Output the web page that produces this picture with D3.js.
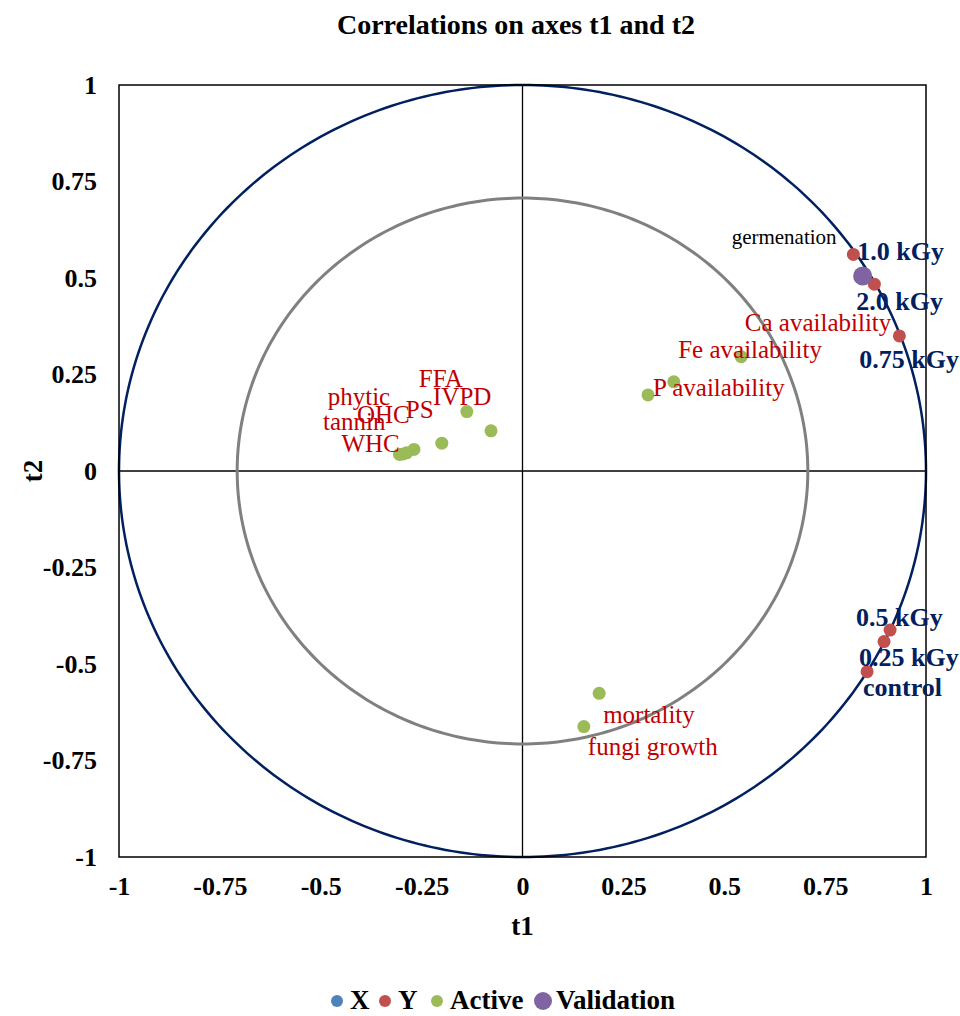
<!DOCTYPE html>
<html>
<head>
<meta charset="utf-8">
<script src="https://cdn.jsdelivr.net/npm/d3@7"></script>
<style>
  body { margin: 0; background: #fff; }
  text { font-family: "Liberation Serif", "Times New Roman", serif; }
</style>
</head>
<body>
<div id="chart"></div>
<script>
// active variables (green)
const activeNames = ["IVPD", "FFA", "PS", "OHC", "phytic", "tannin", "WHC",
  "P availability", "Ca availability", "Fe availability", "mortality", "fungi growth"];
const activeT1 = [-0.078, -0.138, -0.200, -0.269, -0.287, -0.296, -0.305, 0.311, 0.375, 0.542, 0.190, 0.152];
const activeT2 = [0.104, 0.154, 0.072, 0.056, 0.047, 0.044, 0.043, 0.197, 0.231, 0.296, -0.576, -0.662];

// Y variables (red)
const yNames = ["1.0 kGy", "2.0 kGy", "0.75 kGy", "0.5 kGy", "0.25 kGy", "control"];
const yT1 = [0.820, 0.872, 0.934, 0.911, 0.896, 0.854];
const yT2 = [0.561, 0.484, 0.350, -0.412, -0.442, -0.520];

// validation (purple)
const validationNames = ["germenation"];
const validationT1 = [0.843];
const validationT2 = [0.505];

const tickValues = [-1, -0.75, -0.5, -0.25, 0, 0.25, 0.5, 0.75, 1];
const legendNames = ["X", "Y", "Active", "Validation"];

const width = 960, height = 1016;
const colors = { X: "#4F81BD", Y: "#C0504D", Active: "#9BBB59", Validation: "#8064A2" };

// label offsets in pixels from the point
const labelOffsets = {
  "IVPD": [-58, -26], "FFA": [-48, -25], "PS": [-36, -25], "OHC": [-57, -26],
  "phytic": [-79, -48], "tannin": [-80, -24], "WHC": [-58, -2],
  "P availability": [5, 1], "Ca availability": [71, -51], "Fe availability": [-63, 1],
  "mortality": [4, 30], "fungi growth": [4, 28],
  "1.0 kGy": [4, 6], "2.0 kGy": [-18, 26], "0.75 kGy": [-40, 32],
  "0.5 kGy": [-34, -4], "0.25 kGy": [-25, 24], "control": [-4, 24],
  "germenation": [-131, -32]
};

const svg = d3.select("#chart").append("svg")
  .attr("width", width).attr("height", height);

const x = d3.scaleLinear().domain([-1, 1]).range([119, 926]);
const y = d3.scaleLinear().domain([-1, 1]).range([857, 85]);

svg.append("text")
  .attr("x", 516).attr("y", 34)
  .attr("text-anchor", "middle")
  .attr("font-size", 28).attr("font-weight", "bold")
  .text("Correlations on axes t1 and t2");

// zero lines
svg.append("line").attr("x1", x(-1)).attr("x2", x(1)).attr("y1", y(0)).attr("y2", y(0))
  .attr("stroke", "#000").attr("stroke-width", 1.3);
svg.append("line").attr("x1", x(0)).attr("x2", x(0)).attr("y1", y(-1)).attr("y2", y(1))
  .attr("stroke", "#000").attr("stroke-width", 1.3);

// circles r=1 and r=sqrt(0.5)
const angles = d3.range(0, 361, 1).map(d => d * Math.PI / 180);
const circ = r => d3.line()
  .x(a => x(r * Math.cos(a)))
  .y(a => y(r * Math.sin(a)))(angles);

svg.append("path").attr("d", circ(Math.sqrt(0.5)))
  .attr("fill", "none").attr("stroke", "#808080").attr("stroke-width", 3);
svg.append("path").attr("d", circ(1))
  .attr("fill", "none").attr("stroke", "#002060").attr("stroke-width", 2.5);

// frame
svg.append("rect")
  .attr("x", x(-1)).attr("y", y(1))
  .attr("width", x(1) - x(-1)).attr("height", y(-1) - y(1))
  .attr("fill", "none").attr("stroke", "#000").attr("stroke-width", 1.5);

const fmt = d => d3.format("")(d).replace("−", "-");

// axes
const xAxis = svg.append("g").attr("transform", `translate(0,${y(-1)})`)
  .call(d3.axisBottom(x).tickValues(tickValues).tickSize(0).tickPadding(20).tickFormat(fmt));
const yAxis = svg.append("g").attr("transform", `translate(${x(-1)},0)`)
  .call(d3.axisLeft(y).tickValues(tickValues).tickSize(0).tickPadding(22).tickFormat(fmt));
[xAxis, yAxis].forEach(g => {
  g.select(".domain").remove();
  g.selectAll("text")
    .attr("font-family", "Liberation Serif, Times New Roman, serif")
    .attr("font-size", 26).attr("font-weight", "bold").attr("fill", "#000");
});

svg.append("text").attr("x", x(0)).attr("y", 935)
  .attr("text-anchor", "middle").attr("font-size", 27).attr("font-weight", "bold").text("t1");
svg.append("text")
  .attr("transform", `translate(42,${y(0)}) rotate(-90)`)
  .attr("text-anchor", "middle").attr("font-size", 27).attr("font-weight", "bold").text("t2");

// points
const active = activeNames.map((n, i) => ({ name: n, t1: activeT1[i], t2: activeT2[i] }));
const yVars = yNames.map((n, i) => ({ name: n, t1: yT1[i], t2: yT2[i] }));
const valid = validationNames.map((n, i) => ({ name: n, t1: validationT1[i], t2: validationT2[i] }));

svg.append("g").selectAll("circle").data(active).enter().append("circle")
  .attr("cx", d => x(d.t1)).attr("cy", d => y(d.t2)).attr("r", 6.5)
  .attr("fill", colors.Active);

svg.append("g").selectAll("circle").data(yVars).enter().append("circle")
  .attr("cx", d => x(d.t1)).attr("cy", d => y(d.t2)).attr("r", 6.5)
  .attr("fill", colors.Y);

svg.append("g").selectAll("circle").data(valid).enter().append("circle")
  .attr("cx", d => x(d.t1)).attr("cy", d => y(d.t2)).attr("r", 9.5)
  .attr("fill", colors.Validation);

// labels
svg.append("g").selectAll("text").data(active).enter().append("text")
  .attr("x", d => x(d.t1) + labelOffsets[d.name][0])
  .attr("y", d => y(d.t2) + labelOffsets[d.name][1])
  .attr("font-size", 25).attr("fill", "#C00000")
  .text(d => d.name);

svg.append("g").selectAll("text").data(yVars).enter().append("text")
  .attr("x", d => x(d.t1) + labelOffsets[d.name][0])
  .attr("y", d => y(d.t2) + labelOffsets[d.name][1])
  .attr("font-size", 26).attr("font-weight", "bold").attr("fill", "#002060")
  .text(d => d.name);

svg.append("g").selectAll("text").data(valid).enter().append("text")
  .attr("x", d => x(d.t1) + labelOffsets[d.name][0])
  .attr("y", d => y(d.t2) + labelOffsets[d.name][1])
  .attr("font-size", 21).attr("fill", "#000")
  .text(d => d.name);

// legend
const legendX = [337, 385, 437, 543];
const legend = svg.append("g").selectAll("g").data(legendNames).enter().append("g")
  .attr("transform", (d, i) => `translate(${legendX[i]},1001)`);
legend.append("circle").attr("r", d => d === "Validation" ? 9 : 6).attr("fill", d => colors[d]);
legend.append("text").attr("x", 13).attr("y", 8)
  .attr("font-size", 27).attr("font-weight", "bold").text(d => d);
</script>
</body>
</html>
